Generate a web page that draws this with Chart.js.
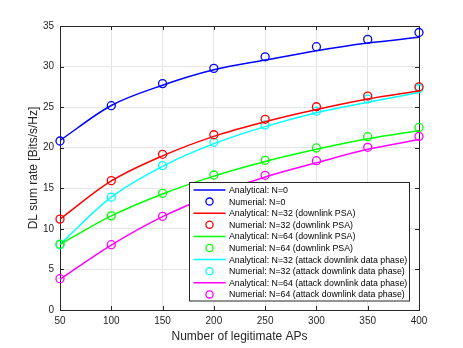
<!DOCTYPE html>
<html>
<head>
<meta charset="utf-8">
<script src="https://cdn.jsdelivr.net/npm/chart.js@4"></script>
<style>
  body { margin: 0; background: #fff; }
  #wrap { width: 463px; height: 348px; }
</style>
</head>
<body>
<div id="wrap"><canvas id="myChart" width="463" height="348"></canvas></div>
<script>
'use strict'

const aps = [50, 100, 150, 200, 250, 300, 350, 400]

// analytical curves
const anaN0 = [20.9, 25.2, 27.7, 29.6, 30.8, 31.95, 32.9, 33.6]
const anaN32Psa = [11.2, 15.9, 19.0, 21.4, 23.2, 24.7, 26.0, 27.0]
const anaN64Psa = [8.1, 11.6, 14.3, 16.5, 18.3, 19.8, 21.1, 22.1]
const anaN32Att = [8.1, 13.9, 17.7, 20.5, 22.6, 24.3, 25.6, 26.8]
const anaN64Att = [3.8, 8.0, 11.5, 14.2, 16.4, 18.15, 19.8, 21.0]

// numerical points
const numN0 = [20.83, 25.18, 27.9, 29.78, 31.2, 32.45, 33.35, 34.2]
const numN32Psa = [11.2, 15.94, 19.19, 21.6, 23.5, 25.05, 26.37, 27.5]
const numN64Psa = [8.1, 11.6, 14.38, 16.64, 18.45, 19.97, 21.36, 22.5]
const numN32Att = [8.05, 13.9, 17.8, 20.67, 22.8, 24.5, 26.0, 27.3]
const numN64Att = [3.86, 8.05, 11.55, 14.3, 16.6, 18.4, 20.05, 21.4]

const yTicks = [0, 5, 10, 15, 20, 25, 30, 35]

const toPoints = (ys) => aps.map((x, i) => ({ x: x, y: ys[i] }))

const lineSet = (label, ys, color) => ({
  label: label,
  data: toPoints(ys),
  borderColor: color,
  backgroundColor: color,
  borderWidth: 1.5,
  pointRadius: 0,
  cubicInterpolationMode: 'monotone',
  showLine: true,
  kind: 'line'
})

const markerSet = (label, ys, color) => ({
  label: label,
  data: toPoints(ys),
  borderColor: color,
  backgroundColor: 'rgba(0,0,0,0)',
  pointRadius: 4,
  pointBorderWidth: 1.3,
  showLine: false,
  clip: false,
  kind: 'marker'
})

const datasets = [
  lineSet('Analytical: N=0', anaN0, '#0000ff'),
  markerSet('Numerial: N=0', numN0, '#0000ff'),
  lineSet('Analytical: N=32 (downlink PSA)', anaN32Psa, '#ff0000'),
  markerSet('Numerial: N=32 (downlink PSA)', numN32Psa, '#ff0000'),
  lineSet('Analytical: N=64 (downlink PSA)', anaN64Psa, '#00ff00'),
  markerSet('Numerial: N=64 (downlink PSA)', numN64Psa, '#00ff00'),
  lineSet('Analytical: N=32 (attack downlink data phase)', anaN32Att, '#00ffff'),
  markerSet('Numerial: N=32 (attack downlink data phase)', numN32Att, '#00ffff'),
  lineSet('Analytical: N=64 (attack downlink data phase)', anaN64Att, '#ff00ff'),
  markerSet('Numerial: N=64 (attack downlink data phase)', numN64Att, '#ff00ff')
]

const axisColor = '#262626'

// box around the plot and inward ticks like matlab
const boxPlugin = {
  id: 'box',
  beforeDatasetsDraw(chart) {
    const { ctx, chartArea: a, scales } = chart
    ctx.save()
    ctx.strokeStyle = axisColor
    ctx.lineWidth = 1
    ctx.strokeRect(a.left + 0.5, a.top + 0.5, a.right - a.left, a.bottom - a.top)
    ctx.beginPath()
    scales.x.ticks.forEach((t) => {
      const px = Math.round(scales.x.getPixelForValue(t.value)) + 0.5
      ctx.moveTo(px, a.bottom); ctx.lineTo(px, a.bottom - 4)
      ctx.moveTo(px, a.top); ctx.lineTo(px, a.top + 4)
    })
    scales.y.ticks.forEach((t) => {
      const py = Math.round(scales.y.getPixelForValue(t.value)) + 0.5
      ctx.moveTo(a.left, py); ctx.lineTo(a.left + 4, py)
      ctx.moveTo(a.right, py); ctx.lineTo(a.right - 4, py)
    })
    ctx.stroke()
    ctx.restore()
  }
}

// legend box inside the plot, lower right
const legendPlugin = {
  id: 'boxLegend',
  afterDraw(chart) {
    const ctx = chart.ctx
    const x0 = 189.5, y0 = 182.5, w = 220, h = 118.5
    const rowH = 11.6
    ctx.save()
    ctx.fillStyle = '#fff'
    ctx.fillRect(x0, y0, w, h)
    ctx.strokeStyle = axisColor
    ctx.lineWidth = 1
    ctx.strokeRect(x0, y0, w, h)
    ctx.font = '8.8px "Liberation Sans", Arial, sans-serif'
    ctx.textBaseline = 'middle'
    chart.data.datasets.forEach((ds, i) => {
      const cy = y0 + 7.5 + i * rowH
      if (ds.kind === 'line') {
        ctx.strokeStyle = ds.borderColor
        ctx.lineWidth = 1.5
        ctx.beginPath()
        ctx.moveTo(x0 + 4, cy); ctx.lineTo(x0 + 36, cy)
        ctx.stroke()
      } else {
        ctx.strokeStyle = ds.borderColor
        ctx.lineWidth = 1.3
        ctx.beginPath()
        ctx.arc(x0 + 20, cy, 3.6, 0, Math.PI * 2)
        ctx.stroke()
      }
      ctx.fillStyle = '#000'
      ctx.fillText(ds.label, x0 + 39.5, cy + 0.5)
    })
    ctx.restore()
  }
}

const ctx = document.getElementById('myChart')

new Chart(ctx, {
  type: 'line',
  data: { datasets: datasets },
  options: {
    responsive: false,
    animation: false,
    layout: { padding: { left: 0, right: 44, top: 26, bottom: 0 } },
    plugins: { legend: { display: false }, tooltip: { enabled: false } },
    scales: {
      x: {
        type: 'linear',
        min: 50,
        max: 400,
        afterFit: (s) => { s.height = 38 },
        afterBuildTicks: (s) => { s.ticks = aps.map((v) => ({ value: v })) },
        grid: { color: '#e5e5e5', drawTicks: false },
        border: { display: false },
        ticks: {
          color: axisColor,
          padding: 5,
          font: { family: '"Liberation Sans", Arial, sans-serif', size: 10 },
          maxRotation: 0
        },
        title: {
          display: true,
          text: 'Number of legitimate APs',
          color: axisColor,
          padding: { top: 0, bottom: 4 },
          font: { family: '"Liberation Sans", Arial, sans-serif', size: 12 }
        }
      },
      y: {
        min: 0,
        max: 35,
        afterFit: (s) => { s.width = 60 },
        afterBuildTicks: (s) => { s.ticks = yTicks.map((v) => ({ value: v })) },
        grid: { color: '#e5e5e5', drawTicks: false },
        border: { display: false },
        ticks: {
          color: axisColor,
          padding: 6,
          font: { family: '"Liberation Sans", Arial, sans-serif', size: 10 }
        },
        title: {
          display: true,
          text: 'DL sum rate [Bits/s/Hz]',
          color: axisColor,
          padding: { top: 26, bottom: 0 },
          font: { family: '"Liberation Sans", Arial, sans-serif', size: 12 }
        }
      }
    }
  },
  plugins: [boxPlugin, legendPlugin]
})
</script>
</body>
</html>
